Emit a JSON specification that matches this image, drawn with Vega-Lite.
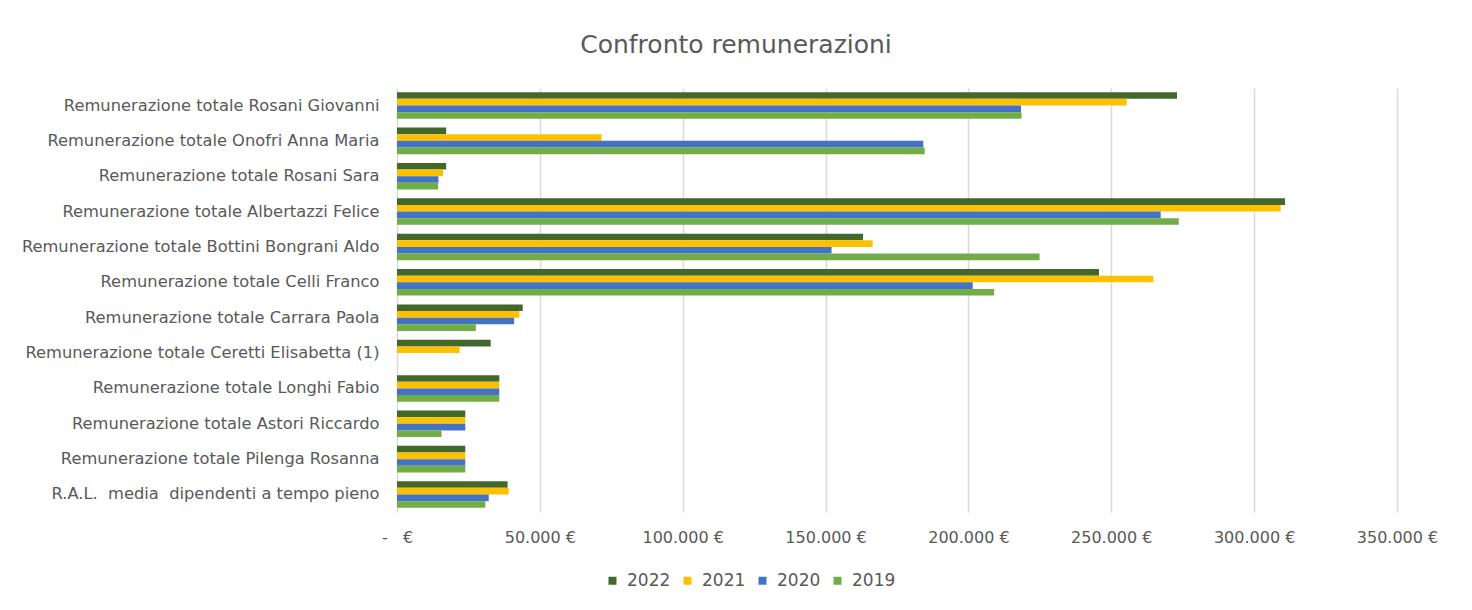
{
  "$schema": "https://vega.github.io/schema/vega-lite/v6.json",
  "autosize": {"type": "none"},
  "width": 1000,
  "height": 424,
  "padding": {"left": 397, "top": 88, "right": 75, "bottom": 98},
  "background": "white",
  "title": {"text": "Confronto remunerazioni", "fontSize": 25, "font": "DejaVu Sans", "fontWeight": "normal", "color": "#595959", "anchor": "middle", "dx": -161, "offset": 30},
  "data": {"values": [
    {"cat": "Remunerazione totale Rosani Giovanni", "year": "2022", "value": 273000},
    {"cat": "Remunerazione totale Rosani Giovanni", "year": "2021", "value": 255400},
    {"cat": "Remunerazione totale Rosani Giovanni", "year": "2020", "value": 218400},
    {"cat": "Remunerazione totale Rosani Giovanni", "year": "2019", "value": 218600},
    {"cat": "Remunerazione totale Onofri Anna Maria", "year": "2022", "value": 17200},
    {"cat": "Remunerazione totale Onofri Anna Maria", "year": "2021", "value": 71600},
    {"cat": "Remunerazione totale Onofri Anna Maria", "year": "2020", "value": 184200},
    {"cat": "Remunerazione totale Onofri Anna Maria", "year": "2019", "value": 184700},
    {"cat": "Remunerazione totale Rosani Sara", "year": "2022", "value": 17200},
    {"cat": "Remunerazione totale Rosani Sara", "year": "2021", "value": 16100},
    {"cat": "Remunerazione totale Rosani Sara", "year": "2020", "value": 14500},
    {"cat": "Remunerazione totale Rosani Sara", "year": "2019", "value": 14400},
    {"cat": "Remunerazione totale Albertazzi Felice", "year": "2022", "value": 310800},
    {"cat": "Remunerazione totale Albertazzi Felice", "year": "2021", "value": 309300},
    {"cat": "Remunerazione totale Albertazzi Felice", "year": "2020", "value": 267300},
    {"cat": "Remunerazione totale Albertazzi Felice", "year": "2019", "value": 273600},
    {"cat": "Remunerazione totale Bottini Bongrani Aldo", "year": "2022", "value": 163100},
    {"cat": "Remunerazione totale Bottini Bongrani Aldo", "year": "2021", "value": 166500},
    {"cat": "Remunerazione totale Bottini Bongrani Aldo", "year": "2020", "value": 152100},
    {"cat": "Remunerazione totale Bottini Bongrani Aldo", "year": "2019", "value": 224900},
    {"cat": "Remunerazione totale Celli Franco", "year": "2022", "value": 245700},
    {"cat": "Remunerazione totale Celli Franco", "year": "2021", "value": 264700},
    {"cat": "Remunerazione totale Celli Franco", "year": "2020", "value": 201500},
    {"cat": "Remunerazione totale Celli Franco", "year": "2019", "value": 209000},
    {"cat": "Remunerazione totale Carrara Paola", "year": "2022", "value": 44000},
    {"cat": "Remunerazione totale Carrara Paola", "year": "2021", "value": 42800},
    {"cat": "Remunerazione totale Carrara Paola", "year": "2020", "value": 41000},
    {"cat": "Remunerazione totale Carrara Paola", "year": "2019", "value": 27600},
    {"cat": "Remunerazione totale Ceretti Elisabetta (1)", "year": "2022", "value": 32800},
    {"cat": "Remunerazione totale Ceretti Elisabetta (1)", "year": "2021", "value": 21900},
    {"cat": "Remunerazione totale Longhi Fabio", "year": "2022", "value": 35800},
    {"cat": "Remunerazione totale Longhi Fabio", "year": "2021", "value": 35800},
    {"cat": "Remunerazione totale Longhi Fabio", "year": "2020", "value": 35800},
    {"cat": "Remunerazione totale Longhi Fabio", "year": "2019", "value": 35800},
    {"cat": "Remunerazione totale Astori Riccardo", "year": "2022", "value": 23900},
    {"cat": "Remunerazione totale Astori Riccardo", "year": "2021", "value": 23900},
    {"cat": "Remunerazione totale Astori Riccardo", "year": "2020", "value": 23900},
    {"cat": "Remunerazione totale Astori Riccardo", "year": "2019", "value": 15600},
    {"cat": "Remunerazione totale Pilenga Rosanna", "year": "2022", "value": 23900},
    {"cat": "Remunerazione totale Pilenga Rosanna", "year": "2021", "value": 23900},
    {"cat": "Remunerazione totale Pilenga Rosanna", "year": "2020", "value": 23900},
    {"cat": "Remunerazione totale Pilenga Rosanna", "year": "2019", "value": 23900},
    {"cat": "R.A.L.  media  dipendenti a tempo pieno", "year": "2022", "value": 38700},
    {"cat": "R.A.L.  media  dipendenti a tempo pieno", "year": "2021", "value": 39100},
    {"cat": "R.A.L.  media  dipendenti a tempo pieno", "year": "2020", "value": 32100},
    {"cat": "R.A.L.  media  dipendenti a tempo pieno", "year": "2019", "value": 30900}
  ]},
  "mark": {"type": "bar"},
  "encoding": {
    "y": {"field": "cat", "type": "nominal", "sort": null, "title": null,
      "scale": {"paddingInner": 0.25, "paddingOuter": 0.12},
      "axis": {"domain": false, "ticks": false, "labelFontSize": 16.3, "labelFont": "DejaVu Sans", "labelColor": "#595959", "labelPadding": 18, "labelLimit": 420,
        "labelExpr": "replace(datum.label, 'R.A.L.  media  dipendenti', 'R.A.L. \u00a0media \u00a0dipendenti')"}},
    "x": {"field": "value", "type": "quantitative", "title": null,
      "scale": {"domain": [0, 350000], "nice": false},
      "axis": {"values": [0, 50000, 100000, 150000, 200000, 250000, 300000, 350000], "domain": false, "ticks": false, "grid": true, "gridColor": "#d9d9d9", "gridWidth": 1.5, "labelFontSize": 16, "labelFont": "DejaVu Sans", "labelColor": "#595959", "labelPadding": 17, "labelFlush": false,
        "labelExpr": "datum.value == 0 ? '-\u00a0\u00a0\u00a0€' : replace(format(datum.value, ','), ',', '.') + ' €'"}},
    "yOffset": {"field": "year", "type": "nominal", "sort": ["2022", "2021", "2020", "2019"]},
    "color": {"field": "year", "type": "nominal",
      "scale": {"domain": ["2022", "2021", "2020", "2019"], "range": ["#43682b", "#ffc000", "#4472c4", "#70ad47"]},
      "legend": {"title": null, "orient": "none", "legendX": 207, "legendY": 484, "padding": 0, "direction": "horizontal", "symbolType": "square", "symbolSize": 64, "symbolStrokeWidth": 0, "labelOffset": 6, "labelFontSize": 17, "labelFont": "DejaVu Sans", "labelColor": "#595959", "columnPadding": 8, "symbolOffset": 0}}
  },
  "config": {"view": {"stroke": null}}
}
